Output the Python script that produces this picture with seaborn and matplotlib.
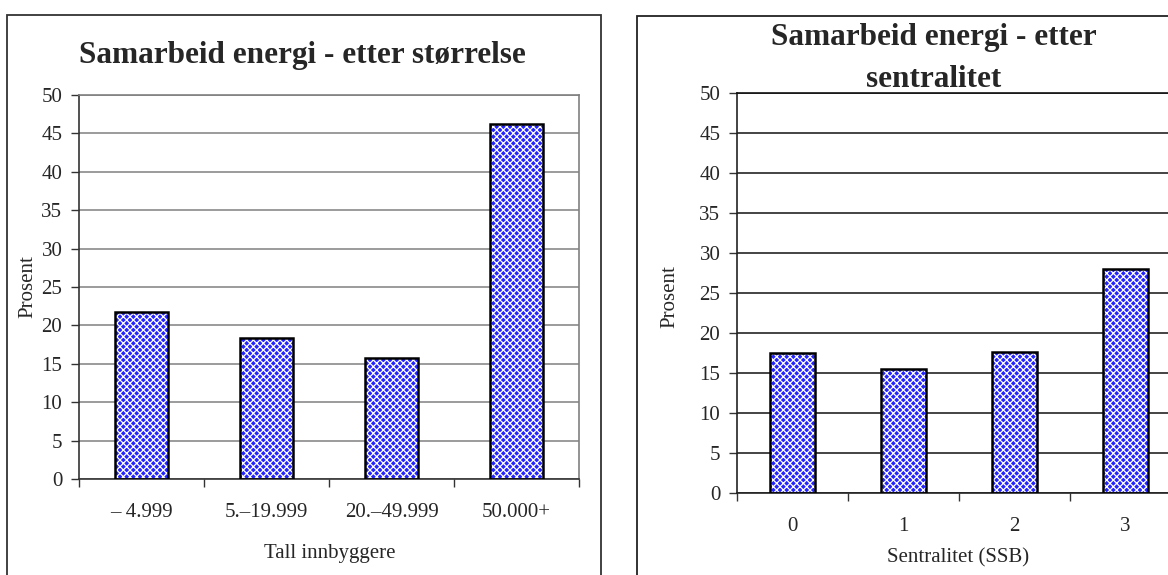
import matplotlib
matplotlib.use('Agg')
import matplotlib.pyplot as plt
import seaborn as sns
import pandas as pd
from matplotlib.patches import Rectangle

# ---- data ----
size_cats = ['– 4.999', '5.–19.999', '20.–49.999', '50.000+']
size_vals = [21.8, 18.3, 15.8, 46.2]
sent_cats = ['0', '1', '2', '3']
sent_vals = [17.5, 15.5, 17.6, 28.0]
yticks = list(range(0, 51, 5))

title_left = 'Samarbeid energi - etter størrelse'
title_right_1 = 'Samarbeid energi - etter'
title_right_2 = 'sentralitet'
xlabel_left = 'Tall innbyggere'
xlabel_right = 'Sentralitet (SSB)'
ylabel = 'Prosent'

sns.set_theme(style='white')
plt.rcParams['font.family'] = ['Liberation Serif', 'DejaVu Serif']
plt.rcParams['hatch.linewidth'] = 0.9

W, H = 1168, 575
fig = plt.figure(figsize=(W / 100, H / 100), dpi=100)
fig.patch.set_facecolor('white')

FS = 15


def ax_at(x0, y0, x1, y1):
    return fig.add_axes([x0 / W, 1 - y1 / H, (x1 - x0) / W, (y1 - y0) / H])


# outer frames
fig.patches.append(Rectangle((7 / W, -0.1), (601 - 7) / W, 1.1 - 15 / H,
                             transform=fig.transFigure, fill=False,
                             edgecolor='#333333', linewidth=1.3))
fig.patches.append(Rectangle((637 / W, -0.1), 1.0, 1.1 - 16 / H,
                             transform=fig.transFigure, fill=False,
                             edgecolor='#222222', linewidth=1.3))


def draw(ax, cats, vals, width, gridcolor, spinecolors):
    df = pd.DataFrame({'cat': cats, 'val': vals})
    sns.barplot(data=df, x='cat', y='val', ax=ax, color='#2424ff',
                saturation=1, width=width, errorbar=None,
                edgecolor='white', linewidth=0, hatch='xxxxx', zorder=2)
    sns.barplot(data=df, x='cat', y='val', ax=ax, color='black',
                fill=False, width=width, errorbar=None, linewidth=1.8,
                zorder=3)
    ax.set_xlim(-0.5, len(cats) - 0.5)
    ax.set_ylim(0, 50)
    ax.set_yticks(yticks)
    ax.set_yticklabels([str(t) for t in yticks], fontsize=FS)
    ax.yaxis.grid(True, color=gridcolor, linewidth=1.1)
    ax.xaxis.grid(False)
    ax.set_axisbelow(True)
    ax.set_xticks([i - 0.5 for i in range(len(cats) + 1)])
    ax.set_xticklabels([])
    ax.set_xticks(range(len(cats)), minor=True)
    ax.set_xticklabels(cats, minor=True, fontsize=FS)
    ax.tick_params(axis='x', which='major', length=6, width=1,
                   direction='out', bottom=True, color='#333333')
    ax.tick_params(axis='x', which='minor', length=0, pad=17, bottom=True)
    ax.tick_params(axis='y', which='major', length=6, width=1,
                   direction='out', left=True, pad=6, color='#333333')
    for side, c in spinecolors.items():
        ax.spines[side].set_visible(True)
        ax.spines[side].set_color(c)
        ax.spines[side].set_linewidth(1.2)
    ax.set_xlabel('')
    ax.set_ylabel('')


# left chart
axL = ax_at(79, 95, 579, 479)
draw(axL, size_cats, size_vals, 0.42, '#808080',
     {'left': '#333333', 'bottom': '#333333', 'top': '#808080', 'right': '#808080'})
axL.set_ylabel(ylabel, fontsize=FS)
axL.yaxis.set_label_coords(-0.084, 0.5)
axL.set_xlabel(xlabel_left, fontsize=FS)
axL.xaxis.set_label_coords(0.502, -0.169)

# right chart (extends past the right edge)
axR = ax_at(737, 93, 1181, 493)
draw(axR, sent_cats, sent_vals, 0.41, '#111111',
     {'left': '#222222', 'bottom': '#222222', 'top': '#111111', 'right': '#111111'})
axR.set_ylabel(ylabel, fontsize=FS)
axR.yaxis.set_label_coords(-0.13, 0.49)
axR.set_xlabel(xlabel_right, fontsize=FS)
axR.xaxis.set_label_coords(0.498, -0.1375)

# titles
fig.text(302 / W, 1 - 63 / H, title_left, ha='center', va='baseline',
         fontsize=22.5, fontweight='bold')
fig.text(934 / W, 1 - 45 / H, title_right_1, ha='center', va='baseline',
         fontsize=22.5, fontweight='bold')
fig.text(934 / W, 1 - 87 / H, title_right_2, ha='center', va='baseline',
         fontsize=22.5, fontweight='bold')

fig.savefig('out.png', dpi=100, facecolor='white')
